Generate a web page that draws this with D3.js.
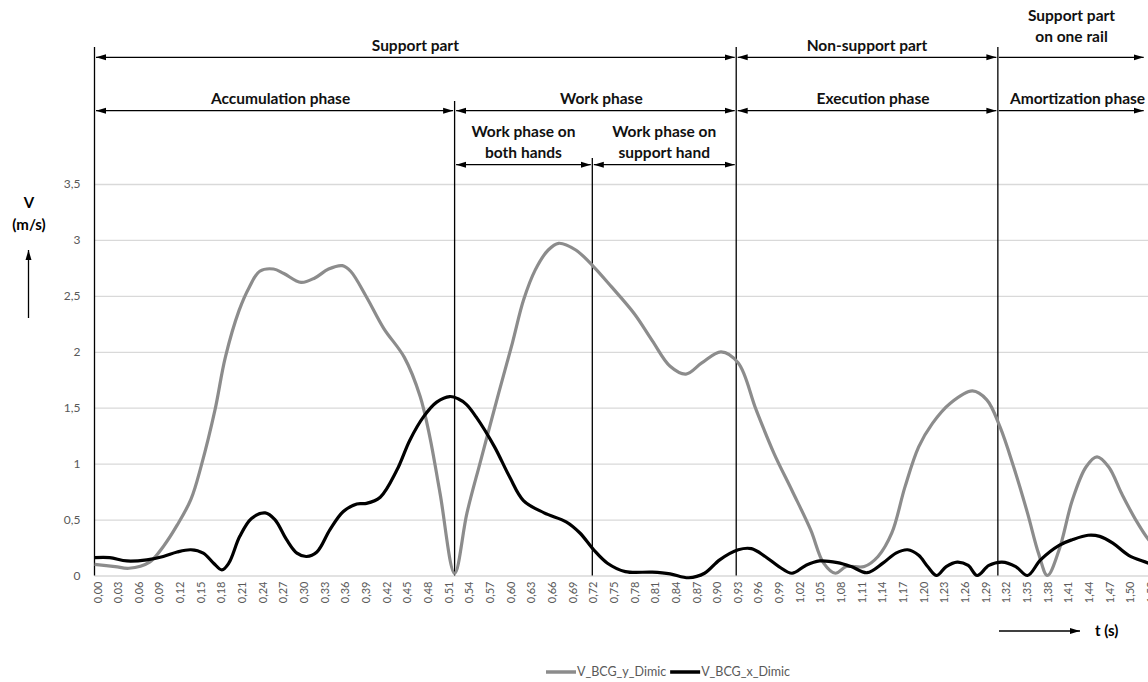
<!DOCTYPE html>
<html><head><meta charset="utf-8">
<script src="https://cdn.jsdelivr.net/npm/d3@7"></script>
<style>body{margin:0;background:#fff} svg{display:block}</style>
</head><body><svg id="c" width="1148" height="682"></svg>
<script>
// ---- data ----
const vyTime = [0.00,0.03,0.05,0.08,0.10,0.12,0.14,0.155,0.175,0.19,0.21,0.225,0.24,0.26,0.275,0.30,0.32,0.34,0.36,0.372,0.395,0.42,0.45,0.473,0.487,0.502,0.523,0.541,0.561,0.587,0.607,0.623,0.640,0.659,0.674,0.699,0.725,0.751,0.784,0.810,0.836,0.859,0.882,0.91,0.935,0.961,0.987,1.013,1.040,1.059,1.076,1.092,1.118,1.138,1.158,1.177,1.197,1.217,1.243,1.275,1.296,1.315,1.335,1.355,1.371,1.384,1.401,1.420,1.440,1.456,1.473,1.492,1.512,1.531,1.55];
const vyValues = [0.10,0.08,0.065,0.12,0.26,0.45,0.68,0.98,1.48,1.95,2.37,2.58,2.72,2.74,2.70,2.62,2.66,2.74,2.77,2.72,2.49,2.21,1.95,1.60,1.24,0.73,0.02,0.56,1.03,1.63,2.08,2.46,2.73,2.91,2.97,2.91,2.76,2.58,2.34,2.10,1.87,1.80,1.90,2.00,1.90,1.48,1.09,0.76,0.41,0.11,0.02,0.08,0.08,0.17,0.38,0.79,1.15,1.36,1.54,1.65,1.57,1.33,0.97,0.56,0.20,0.0,0.23,0.67,0.97,1.06,0.97,0.73,0.50,0.32,0.20];
const vxTime = [0.00,0.022,0.047,0.076,0.10,0.12,0.14,0.158,0.173,0.185,0.195,0.211,0.228,0.248,0.262,0.279,0.294,0.308,0.323,0.342,0.361,0.381,0.395,0.415,0.439,0.458,0.478,0.497,0.516,0.528,0.540,0.554,0.581,0.603,0.623,0.653,0.685,0.705,0.725,0.745,0.771,0.810,0.836,0.863,0.886,0.908,0.935,0.954,0.974,0.994,1.013,1.033,1.053,1.079,1.099,1.122,1.145,1.164,1.181,1.197,1.210,1.223,1.237,1.253,1.269,1.282,1.299,1.318,1.338,1.355,1.374,1.401,1.420,1.443,1.460,1.479,1.502,1.531,1.55];
const vxValues = [0.16,0.16,0.13,0.14,0.17,0.21,0.23,0.20,0.11,0.05,0.11,0.35,0.51,0.56,0.50,0.32,0.20,0.17,0.21,0.41,0.57,0.64,0.645,0.70,0.94,1.21,1.42,1.55,1.60,1.58,1.53,1.42,1.15,0.88,0.67,0.56,0.48,0.38,0.23,0.11,0.035,0.03,0.015,-0.02,0.02,0.14,0.23,0.24,0.17,0.08,0.02,0.09,0.13,0.115,0.08,0.025,0.11,0.20,0.23,0.18,0.08,0.0,0.08,0.12,0.09,0.0,0.09,0.12,0.08,0.0,0.14,0.27,0.32,0.36,0.35,0.29,0.18,0.11,0.06];
const seriesNames = ["V_BCG_y_Dimic","V_BCG_x_Dimic"];
const xTickValues = d3.range(0, 52).map(i => +(i*0.03).toFixed(2));
const yTickValues = [0,0.5,1,1.5,2,2.5,3,3.5];
// phase annotations: label lines and [start t, end t]
const partLabels = [["Support part"],["Non-support part"],["Support part","on one rail"]];
const partSpans = [[0,0.932],[0.932,1.312],[1.312,1.526]];
const phaseLabels = [["Accumulation phase"],["Work phase"],["Execution phase"],["Amortization phase"]];
const phaseSpans = [[0,0.523],[0.523,0.932],[0.932,1.312],[1.312,1.526]];
const subLabels = [["Work phase on","both hands"],["Work phase on","support hand"]];
const subSpans = [[0.523,0.723],[0.723,0.932]];
// boundary lines: time, level where they start (0 top, 1 phase, 2 subphase)
const boundaryTimes = [0,0.523,0.723,0.932,1.312];
const boundaryLevels = [0,1,2,0,0];

// ---- layout ----
const svg = d3.select("#c");
const FONT = "Lato, 'Open Sans', sans-serif";
const x = d3.scaleLinear().domain([0,1.5]).range([94.5,1127.3]);
const y = d3.scaleLinear().domain([0,3.5]).range([575.5,184]);
const fmt = v => d3.format(".2f")(v).replace(".", ",");
const fmtY = v => String(v).replace(".", ",");

// gridlines + y labels
const yAxis = d3.axisLeft(y).tickValues(yTickValues).tickSize(-(1148-94.5)).tickFormat(fmtY).tickPadding(14);
const gy = svg.append("g").attr("transform","translate(94.5,0)").call(yAxis);
gy.select(".domain").remove();
gy.selectAll(".tick line").attr("stroke","#d9d9d9").attr("stroke-width",1.3);
gy.selectAll(".tick text").attr("fill","#595959").attr("font-family",FONT).attr("font-size",12);

// x axis labels
const xAxis = d3.axisBottom(x).tickValues(xTickValues).tickSize(0).tickFormat(fmt);
const gx = svg.append("g").attr("transform","translate(0,575.5)").call(xAxis);
gx.select(".domain").remove();
gx.selectAll(".tick text")
  .attr("fill","#595959").attr("font-family",FONT).attr("font-size",11)
  .attr("text-anchor","end").attr("dy",null).attr("y",null)
  .attr("dominant-baseline","central")
  .attr("transform","translate(2,6) rotate(-90)");

// markers
const defs = svg.append("defs");
defs.append("marker").attr("id","ah").attr("markerUnits","userSpaceOnUse")
  .attr("markerWidth",11).attr("markerHeight",8).attr("refX",10).attr("refY",4)
  .attr("orient","auto-start-reverse")
  .append("path").attr("d","M0,1 L10,4 L0,7 Z").attr("fill","#000");

// boundary lines
const levelY = [57.3,110.7,164.7];
const levelTop = [47,101,158];
svg.append("g").selectAll("line").data(boundaryTimes).join("line")
  .attr("x1",d=>x(d)).attr("x2",d=>x(d))
  .attr("y1",(d,i)=>levelTop[boundaryLevels[i]]).attr("y2",575.5)
  .attr("stroke","#000").attr("stroke-width",1.3);

function drawLevel(labels, spans, lvl, openRightEnd, multiLift, dxText) {
  const g = svg.append("g");
  spans.forEach((s,i) => {
    const x1 = x(s[0]) + 1.5, x2 = x(s[1]) - 1.5;
    const last = openRightEnd && i === spans.length-1;
    const ln = g.append("line").attr("x1", last ? x(s[0])+1 : x1).attr("x2",x2)
      .attr("y1",levelY[lvl]).attr("y2",levelY[lvl])
      .attr("stroke","#000").attr("stroke-width",1.3)
      .attr("marker-end","url(#ah)");
    if (!last) ln.attr("marker-start","url(#ah)");
    const cx = (x(s[0]) + x(s[1]))/2 + dxText;
    const lines = labels[i];
    const lift = lines.length > 1 ? multiLift : 0;
    lines.forEach((t,j) => {
      g.append("text").attr("x",cx)
        .attr("y", levelY[lvl] - 6.5 - lift - (lines.length-1-j)*21)
        .attr("text-anchor","middle").attr("font-family",FONT)
        .attr("font-weight","bold").attr("font-size",15.5).attr("fill","#111")
        .text(t);
    });
  });
}
drawLevel(partLabels, partSpans, 0, true, 9, 0);
drawLevel(phaseLabels, phaseSpans, 1, true, 0, 6);
drawLevel(subLabels, subSpans, 2, false, 0, 0);

// series lines
const line = d3.line().x(d=>x(d[0])).y(d=>y(d[1])).curve(d3.curveCatmullRom.alpha(0.5));
const vy = vyTime.map((t,i)=>[t,vyValues[i]]);
const vx = vxTime.map((t,i)=>[t,vxValues[i]]);
const colors = ["#8c8c8c","#000000"];
svg.append("path").datum(vy).attr("d",line).attr("fill","none")
  .attr("stroke",colors[0]).attr("stroke-width",3.2).attr("stroke-linejoin","round");
svg.append("path").datum(vx).attr("d",line).attr("fill","none")
  .attr("stroke",colors[1]).attr("stroke-width",3.2).attr("stroke-linejoin","round");

// axis titles
svg.append("text").attr("x",29).attr("y",208).attr("text-anchor","middle")
  .attr("font-family",FONT).attr("font-weight","bold").attr("font-size",15).text("V");
svg.append("text").attr("x",29).attr("y",230).attr("text-anchor","middle")
  .attr("font-family",FONT).attr("font-weight","bold").attr("font-size",15).text("(m/s)");
svg.append("line").attr("x1",28.5).attr("x2",28.5).attr("y1",318).attr("y2",250)
  .attr("stroke","#000").attr("stroke-width",1.3).attr("marker-end","url(#ah)");
svg.append("line").attr("x1",999).attr("x2",1080).attr("y1",631).attr("y2",631)
  .attr("stroke","#000").attr("stroke-width",1.3).attr("marker-end","url(#ah)");
svg.append("text").attr("x",1095).attr("y",636)
  .attr("font-family",FONT).attr("font-weight","bold").attr("font-size",15).text("t (s)");

// legend
const lg = svg.append("g");
let lx = 546;
seriesNames.forEach((n,i) => {
  lg.append("line").attr("x1",lx).attr("x2",lx+30).attr("y1",672).attr("y2",672)
    .attr("stroke",colors[i]).attr("stroke-width",3.5);
  const t = lg.append("text").attr("x",lx+31).attr("y",676)
    .attr("font-family",FONT).attr("font-size",12.5).attr("fill","#595959").text(n);
  lx += 31 + t.node().getComputedTextLength() + 4;
});
</script></body></html>
